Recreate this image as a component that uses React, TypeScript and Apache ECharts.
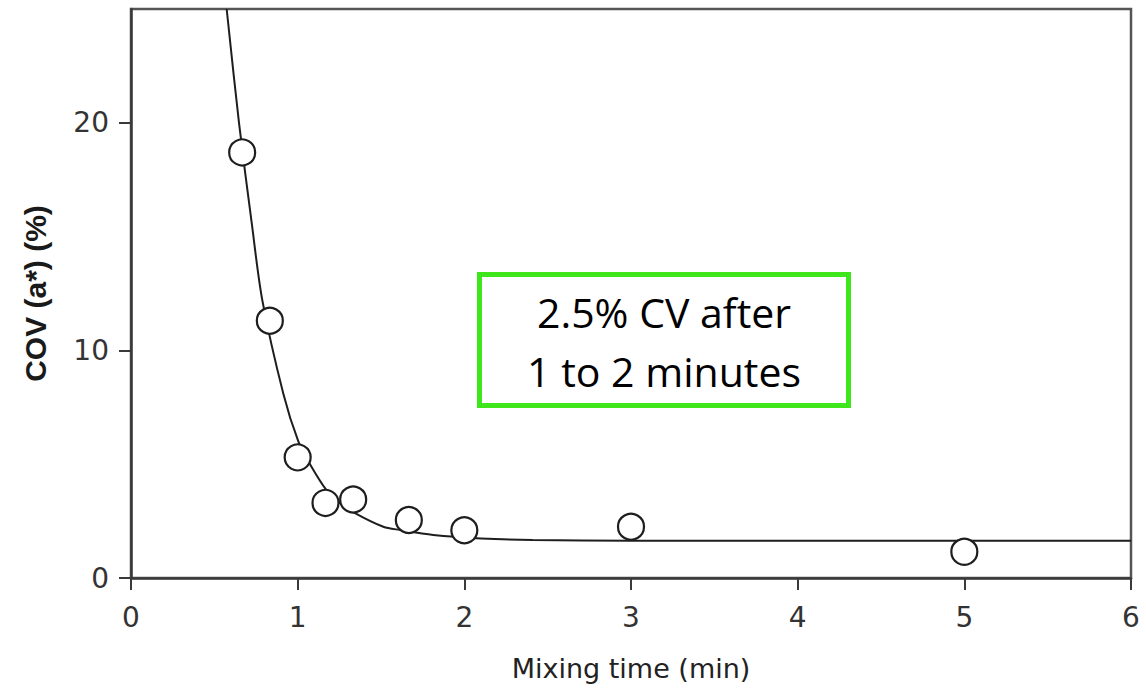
import React, { useEffect, useRef } from "react";
import * as echarts from "echarts";

// Measured mixing samples: COV of a* versus mixing time
const sampleTime = [0.667, 0.833, 1.0, 1.167, 1.333, 1.667, 2.0, 3.0, 5.0];
const sampleCov = [18.7, 11.3, 5.3, 3.3, 3.45, 2.55, 2.1, 2.25, 1.15];

// Fitted decay curve through the samples
const curveTime = [0.574, 0.648, 0.726, 0.788, 0.914, 1.004, 1.074, 1.174, 1.254, 1.344, 1.514, 1.614, 1.814, 2.1, 2.41, 3.0, 4.5, 6.0];
const curveCov = [25.0, 20.0, 15.5, 12.2, 8.1, 6.0, 5.0, 3.85, 3.3, 2.85, 2.25, 2.11, 1.89, 1.74, 1.67, 1.64, 1.64, 1.64];

const yTicks = [0, 10, 20];
const noteLines = ["2.5% CV after", "1 to 2 minutes"];

export default function App() {
  const ref = useRef<HTMLDivElement>(null);

  useEffect(() => {
    if (!ref.current) return;
    const chart = echarts.init(ref.current, null, { renderer: "svg" });
    const axisColor = "#3a3a3a";
    const labelColor = "#333";

    chart.setOption({
      animation: false,
      backgroundColor: "#ffffff",
      grid: {
        left: 131,
        right: 15,
        top: 9,
        bottom: 115,
        show: true,
        borderColor: "#555",
        borderWidth: 2.5,
        backgroundColor: "transparent",
      },
      xAxis: {
        type: "value",
        min: 0,
        max: 6,
        interval: 1,
        name: "Mixing time (min)",
        nameLocation: "middle",
        nameGap: 77,
        nameTextStyle: { fontFamily: "DejaVu Sans", fontSize: 27, color: "#222" },
        axisLine: { show: true, onZero: false, lineStyle: { color: axisColor, width: 2.5 } },
        axisTick: { show: true, inside: false, length: 12, lineStyle: { color: axisColor, width: 2 } },
        axisLabel: { margin: 25, fontFamily: "DejaVu Sans", fontSize: 28, color: labelColor },
        splitLine: { show: false },
      },
      yAxis: {
        type: "value",
        min: 0,
        max: 25,
        interval: 10,
        name: "COV (a*) (%)",
        nameLocation: "middle",
        nameGap: 81,
        nameTextStyle: { fontFamily: "Liberation Sans", fontSize: 30, fontWeight: "bold", color: "#1a1a1a" },
        axisLine: { show: true, onZero: false, lineStyle: { color: axisColor, width: 2.5 } },
        axisTick: { show: true, inside: false, length: 12, customValues: yTicks, lineStyle: { color: axisColor, width: 2 } },
        axisLabel: { margin: 22, customValues: yTicks, fontFamily: "DejaVu Sans", fontSize: 28, color: labelColor },
        splitLine: { show: false },
      },
      series: [
        {
          type: "line",
          data: curveTime.map((t, i) => [t, curveCov[i]]),
          smooth: 0.3,
          showSymbol: false,
          clip: true,
          lineStyle: { color: "#1e1e1e", width: 2 },
          z: 2,
        },
        {
          type: "scatter",
          data: sampleTime.map((t, i) => [t, sampleCov[i]]),
          symbol: "circle",
          symbolSize: 26,
          itemStyle: { color: "#ffffff", borderColor: "#1e1e1e", borderWidth: 2.2, opacity: 1 },
          z: 3,
        },
      ],
      graphic: [
        {
          type: "group",
          left: 477,
          top: 272,
          children: [
            {
              type: "rect",
              shape: { x: 2.5, y: 2.5, width: 369, height: 131 },
              style: { fill: "#ffffff", stroke: "#3fe61c", lineWidth: 5 },
            },
            {
              type: "text",
              x: 187,
              y: 40,
              style: {
                text: noteLines[0],
                fontFamily: "Open Sans",
                fontSize: 41,
                fill: "#000",
                align: "center",
                verticalAlign: "middle",
              },
            },
            {
              type: "text",
              x: 187,
              y: 99,
              style: {
                text: noteLines[1],
                fontFamily: "Open Sans",
                fontSize: 41,
                fill: "#000",
                align: "center",
                verticalAlign: "middle",
              },
            },
          ],
        },
      ],
    });

    return () => chart.dispose();
  }, []);

  return (
    <div
      ref={ref}
      style={{ position: "fixed", left: 0, top: 0, width: 1146, height: 693, background: "#fff" }}
    />
  );
}
